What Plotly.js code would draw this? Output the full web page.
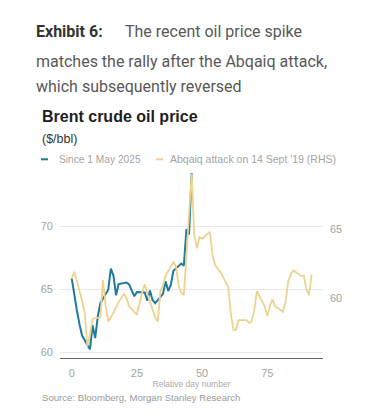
<!DOCTYPE html>
<html>
<head>
<meta charset="utf-8">
<script src="https://cdn.plot.ly/plotly-3.0.1.min.js"></script>
<style>html,body{margin:0;padding:0;background:#fff;}#chart{width:372px;height:418px;}</style>
</head>
<body>
<div id="chart"></div>
<script>
// Blue: since 1 May 2025 (left axis), relative day number (calendar days, trading days only)
const blueDays = [0,1,2,3,4,7,8,9,10,11,14,15,16,17,18,21,22,23,24,25,28,29,30,31,32,35,36,37,38,39,42,43,44,45,46];
const blueVals = [65.86,64.4,63.3,62.2,61.3,60.23,62.15,61.12,62.84,63.91,64.96,66.63,66.09,64.53,65.41,65.54,65.38,64.91,64.44,64.78,64.74,64.09,64.90,64.15,63.90,64.63,65.63,64.86,65.34,66.47,67.04,66.87,69.77,69.36,74.23];

// Yellow: Abqaiq attack on 14 Sept '19 (right axis)
const yellowDays = [0,1,4,5,6,7,8,11,12,13,14,15,18,19,20,21,22,25,26,27,28,29,32,33,34,35,36,39,40,41,42,43,46,47,48,49,50,53,54,55,56,57,60,61,62,63,64,67,68,69,70,71,74,75,76,77,78,81,82,83,84,85,88,89,90,91,92];
const yellowVals = [61.4,61.9,59.8,58.9,56.5,57.3,58.5,58.6,61.3,59.5,58.3,58.6,59.7,60.0,60.3,60.0,59.4,58.8,59.7,60.4,61.0,60.3,58.6,58.3,60.5,60.9,61.6,62.6,62.3,60.9,60.4,60.2,69.0,64.55,63.6,64.4,64.3,64.8,63.1,62.4,62.1,61.9,60.8,58.9,57.7,57.7,58.4,58.4,58.2,58.3,59.1,60.5,59.4,58.7,59.4,59.9,59.4,59.0,59.7,61.2,61.7,62.0,61.6,61.6,60.6,60.2,61.7];

const xTicks = [0,25,50,75];
const leftTicks = [60,65,70];
const rightTicks = [60,65];

const seriesNames = ['Since 1 May 2025', "Abqaiq attack on 14 Sept '19 (RHS)"];
const blueColor = '#1f7b9e';
const yellowColor = '#edd290';

// pixel helpers for paper coordinates (plot area: x 60..323, y 165..358)
const L = 60, R = 323, T = 165, B = 358;
const px = x => (x - L) / (R - L);
const py = y => (B - y) / (B - T);

const traces = [
  {x: yellowDays, y: yellowVals, yaxis: 'y2', type: 'scatter', mode: 'lines',
   name: seriesNames[1], line: {color: yellowColor, width: 1.8}, hoverinfo: 'x+y'},
  {x: blueDays, y: blueVals, yaxis: 'y', type: 'scatter', mode: 'lines',
   name: seriesNames[0], line: {color: blueColor, width: 2}, hoverinfo: 'x+y'}
];

const sans = 'Liberation Sans, Arial, sans-serif';
const tickFont = {family: sans, size: 11, color: '#a3a3a3'};

const ann = (x, y, text, font, anchor) => ({
  xref: 'paper', yref: 'paper', x: px(x), y: py(y), text: text, showarrow: false,
  xanchor: anchor || 'left', yanchor: 'middle', font: font, borderpad: 0
});

const exFont = {family: 'Roboto, sans-serif', size: 16, color: '#585858'};
const exBold = {family: 'Roboto, sans-serif', size: 16, color: '#333', weight: 700};

const layout = {
  width: 372, height: 418,
  margin: {l: L, r: 372 - R, t: T, b: 418 - B, pad: 0},
  paper_bgcolor: '#fff', plot_bgcolor: '#fff',
  showlegend: false,
  xaxis: {
    range: [-4.49, 96.36], tickvals: xTicks, ticktext: xTicks.map(String),
    showgrid: false, zeroline: false, showline: true, linecolor: '#666', linewidth: 1.3,
    ticks: '', tickfont: tickFont, ticklabelstandoff: 4,
    title: {text: 'Relative day number', font: {family: sans, size: 8.5, color: '#aaa'}, standoff: 3}
  },
  yaxis: {
    range: [59.539, 74.869], tickvals: leftTicks, ticktext: leftTicks.map(String),
    showgrid: true, gridcolor: '#e8e8e8', gridwidth: 1, zeroline: false, showline: false,
    ticks: '', tickfont: tickFont, ticklabelstandoff: 6
  },
  yaxis2: {
    overlaying: 'y', side: 'right',
    range: [55.652, 69.638], tickvals: rightTicks, ticktext: rightTicks.map(String),
    showgrid: false, zeroline: false, showline: false,
    ticks: '', tickfont: tickFont, ticklabelstandoff: 6
  },
  shapes: [
    {type: 'line', xref: 'paper', yref: 'paper', x0: px(41), x1: px(48), y0: py(159.3), y1: py(159.3), line: {color: blueColor, width: 2}},
    {type: 'line', xref: 'paper', yref: 'paper', x0: px(156), x1: px(163), y0: py(159.3), y1: py(159.3), line: {color: yellowColor, width: 2}}
  ],
  annotations: [
    ann(35, 31.7, 'Exhibit 6:', exBold),
    ann(124, 31.7, 'The recent oil price spike', exFont),
    ann(35, 61.7, 'matches the rally after the Abqaiq attack,', exFont),
    ann(35, 87, 'which subsequently reversed', exFont),
    ann(41, 116.7, 'Brent crude oil price', {family: sans, size: 16, color: '#1e1e1e', weight: 700}),
    ann(41, 139.3, '($/bbl)', {family: sans, size: 12.5, color: '#333'}),
    ann(58, 159.3, seriesNames[0], {family: sans, size: 10.2, color: '#a3a3a3'}),
    ann(169, 159.3, seriesNames[1], {family: sans, size: 10.5, color: '#a3a3a3'}),
    ann(41, 397.3, 'Source: Bloomberg, Morgan Stanley Research', {family: sans, size: 9.6, color: '#9a9a9a'})
  ]
};

Plotly.newPlot('chart', traces, layout, {staticPlot: true, displayModeBar: false});
</script>
</body>
</html>
